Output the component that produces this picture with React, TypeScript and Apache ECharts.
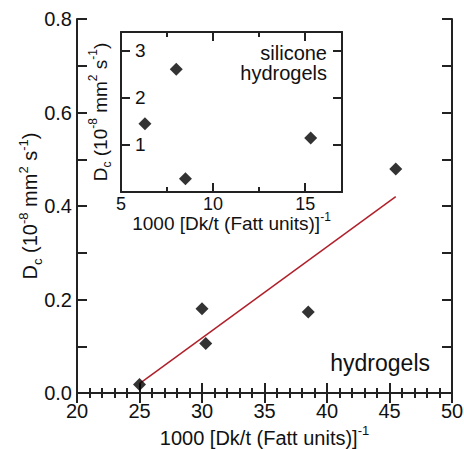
import React, { useEffect, useRef } from "react";
import * as echarts from "echarts";

// ---- data ----
const hydrogelX = [25.0, 30.0, 30.3, 38.5, 45.5];
const hydrogelY = [0.018, 0.18, 0.106, 0.173, 0.479];
const fitX = [25.0, 45.5];
const fitY = [0.02, 0.42];
const siliconeX = [6.3, 8.0, 8.5, 15.3];
const siliconeY = [1.45, 2.61, 0.28, 1.15];

const mainXRange = [20, 50];
const mainYRange = [0, 0.8];
const insetXRange = [5, 17];
const insetYRange = [0, 3.4];

const xTitle = "{n|1000 [Dk/t (Fatt units)]}{sup|-1}";
const yTitle = "{n|D}{sub|c}{n| (10}{sup|-8}{n| mm}{sup|2}{n| s}{sup|-1}{n|)}";
const mainLabel = "hydrogels";
const insetLabel = "silicone\nhydrogels";

const FONT = "'Liberation Sans', Arial, Helvetica, sans-serif";
const TXT = "#111";
const AX = "#222";

const rich = (size: number, lh: number) => ({
  n: { fontSize: size, fontFamily: FONT, color: TXT, lineHeight: lh },
  sup: { fontSize: Math.round(size * 0.65), fontFamily: FONT, color: TXT, lineHeight: 2, height: 4, verticalAlign: "top" },
  sub: { fontSize: Math.round(size * 0.65), fontFamily: FONT, color: TXT, lineHeight: 2, height: 4, verticalAlign: "bottom" },
});

const axisLine = { show: true, lineStyle: { color: AX, width: 2 } };
const tickStyle = { color: AX, width: 2 };

export default function App() {
  const ref = useRef<HTMLDivElement>(null);
  useEffect(() => {
    document.body.style.margin = "0";
    const chart = echarts.init(ref.current!, undefined, { renderer: "svg" });
    const ax = (grid: number, pos: string, range: number[], interval: number, tickLen: number, extra: any = {}) => ({
      type: "value",
      gridIndex: grid,
      position: pos,
      min: range[0],
      max: range[1],
      interval,
      axisLine,
      splitLine: { show: false },
      axisTick: { show: true, inside: true, length: tickLen, lineStyle: tickStyle },
      axisLabel: { show: false },
      ...extra,
    });
    const option: any = {
      animation: false,
      backgroundColor: "#fff",
      grid: [
        { left: 77, top: 19, width: 375, height: 374, containLabel: false, outerBoundsMode: "none" },
        {
          left: 121, top: 32, width: 221, height: 160, show: true, backgroundColor: "#fff", borderWidth: 0,
          containLabel: false, outerBoundsMode: "none",
        },
      ],
      xAxis: [
        ax(0, "bottom", mainXRange, 5, 10, {
          minorTick: { show: true, splitNumber: 5, length: 5, lineStyle: tickStyle },
          axisLabel: { show: true, fontSize: 20, fontFamily: FONT, color: TXT, margin: 8 },
          name: xTitle,
          nameLocation: "middle",
          nameGap: 35,
          nameMoveOverlap: false,
          nameTextStyle: { rich: rich(20, 20) },
        }),
        ax(0, "top", mainXRange, 5, 10, {
          minorTick: { show: true, splitNumber: 5, length: 5, lineStyle: tickStyle },
        }),
        ax(1, "bottom", insetXRange, 5, 9, {
          axisLabel: {
            show: true, fontSize: 18, fontFamily: FONT, color: TXT, margin: 4, lineHeight: 16,
            formatter: (v: number) => (v % 5 === 0 ? String(v) : ""),
          },
          name: xTitle,
          nameLocation: "middle",
          nameGap: 23,
          nameMoveOverlap: false,
          nameTextStyle: { rich: rich(19, 16) },
        }),
        ax(1, "bottom", insetXRange, 2.5, 5, { axisLine: { show: false } }),
        ax(1, "top", insetXRange, 5, 9),
        ax(1, "top", insetXRange, 2.5, 5, { axisLine: { show: false } }),
      ],
      yAxis: [
        ax(0, "left", mainYRange, 0.2, 10, {
          minorTick: { show: true, splitNumber: 2, length: 10, lineStyle: tickStyle },
          axisLabel: {
            show: true, fontSize: 20, fontFamily: FONT, color: TXT, margin: 5,
            formatter: (v: number) => v.toFixed(1),
          },
          name: yTitle,
          nameLocation: "middle",
          nameRotate: 90,
          nameGap: 38,
          nameMoveOverlap: false,
          nameTextStyle: { rich: rich(20, 18) },
        }),
        ax(0, "right", mainYRange, 0.2, 10, {
          minorTick: { show: true, splitNumber: 2, length: 10, lineStyle: tickStyle },
        }),
        ax(1, "left", insetYRange, 1, 9, {
          axisLabel: {
            show: true, inside: true, fontSize: 19, fontFamily: FONT, color: TXT, margin: 14,
            formatter: (v: number) => (v > 0 && Math.abs(v - Math.round(v)) < 1e-6 ? String(v) : ""),
          },
          name: yTitle,
          nameLocation: "middle",
          nameRotate: 90,
          nameGap: 12,
          nameMoveOverlap: false,
          nameTextStyle: { rich: rich(19, 18) },
        }),
        ax(1, "right", insetYRange, 1, 9),
      ],
      series: [
        {
          type: "line",
          xAxisIndex: 0,
          yAxisIndex: 0,
          data: fitX.map((x, i) => [x, fitY[i]]),
          showSymbol: false,
          symbol: "none",
          lineStyle: { color: "#b0202a", width: 1.5 },
          z: 2,
        },
        {
          type: "scatter",
          xAxisIndex: 0,
          yAxisIndex: 0,
          data: hydrogelX.map((x, i) => [x, hydrogelY[i]]),
          symbol: "diamond",
          symbolSize: 13,
          itemStyle: { color: "#000" },
          z: 3,
        },
        {
          type: "scatter",
          xAxisIndex: 2,
          yAxisIndex: 2,
          data: siliconeX.map((x, i) => [x, siliconeY[i]]),
          symbol: "diamond",
          symbolSize: 13,
          itemStyle: { color: "#000" },
          z: 3,
        },
      ],
      graphic: [
        {
          type: "text",
          x: 430,
          y: 363,
          style: { text: mainLabel, fontSize: 23, fontFamily: FONT, fill: TXT, align: "right", verticalAlign: "middle" },
        },
        {
          type: "text",
          x: 327,
          y: 63,
          style: { text: insetLabel, fontSize: 20, lineHeight: 20, fontFamily: FONT, fill: TXT, align: "right", verticalAlign: "middle" },
        },
      ],
    };
    chart.setOption(option);
    return () => chart.dispose();
  }, []);
  return <div ref={ref} style={{ width: 464, height: 449 }} />;
}
